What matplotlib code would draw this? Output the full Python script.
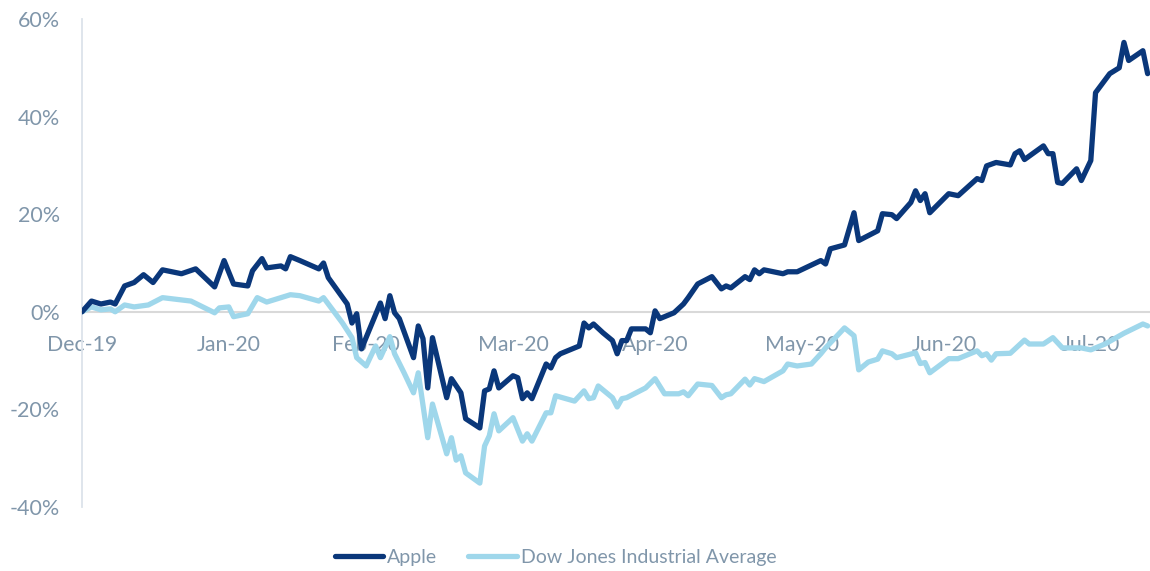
import numpy as np
import pandas as pd
import matplotlib
matplotlib.use('Agg')
import matplotlib.pyplot as plt
import matplotlib.dates as mdates
from matplotlib.ticker import FuncFormatter

## Data (cumulative return in %)
start = pd.Timestamp('2019-12-31')

apple_days = [0, 2, 4, 6, 7, 9, 11, 13, 15, 17, 21, 24, 28, 30, 32, 35, 36, 38, 39, 42,
              43, 44, 46, 50, 51, 52, 56, 57, 58, 59, 63, 64, 65, 66, 67, 70, 71, 72, 73, 74,
              77, 78, 80, 81, 84, 85, 86, 87, 88, 91, 92, 93, 94, 95, 98, 99, 100, 101, 105, 106,
              107, 108, 110, 112, 113, 114, 115, 116, 119, 120, 121, 122, 125, 127, 128, 130, 133, 135, 136, 137,
              140, 141, 142, 143, 144, 148, 149, 151, 156, 157, 158, 161, 163, 164, 166, 168, 169, 171, 172, 175,
              176, 177, 178, 179, 183, 185, 189, 190, 191, 193, 196, 197, 198, 199, 203, 204, 205, 206, 207, 210,
              211, 213, 214, 217, 219, 220, 221, 224, 225]
apple_vals = [0.0, 2.2, 1.6, 2.0, 1.6, 5.3, 6.0, 7.6, 6.0, 8.6, 7.8, 8.8, 5.1, 10.5, 5.7, 5.3, 8.4, 10.9, 9.0, 9.4,
              8.8, 11.3, 10.5, 8.8, 10.0, 7.0, 1.6, -2.3, -0.4, -7.6, 1.8, -1.4, 3.3, -0.2, -1.4, -9.4, -2.9, -5.5, -15.6, -5.3,
              -17.6, -13.7, -16.6, -21.9, -23.8, -16.2, -15.8, -12.1, -15.6, -13.1, -13.5, -17.8, -16.6, -17.8, -10.7, -11.5, -9.4, -8.6, -7.0, -2.3,
              -3.3, -2.5, -4.3, -5.9, -8.6, -5.9, -5.9, -3.5, -3.5, -4.3, 0.2, -1.4, -0.2, 1.6, 2.9, 5.7, 7.2, 4.7, 5.3, 4.9,
              7.2, 6.6, 8.6, 7.8, 8.6, 7.8, 8.2, 8.2, 10.5, 9.8, 12.9, 13.7, 20.3, 14.6, 15.6, 16.6, 20.1, 19.9, 19.1, 22.4,
              24.8, 22.8, 24.2, 20.3, 24.2, 23.8, 27.3, 26.9, 29.9, 30.6, 30.1, 32.4, 33.0, 31.2, 34.0, 32.4, 32.4, 26.5, 26.3, 29.3,
              26.9, 31.0, 44.9, 48.8, 50.0, 55.2, 51.5, 53.5, 48.8]

dow_days = [0, 2, 4, 6, 7, 9, 11, 14, 17, 23, 28, 29, 31, 32, 35, 37, 39, 42, 44, 46,
            50, 51, 52, 55, 57, 58, 60, 62, 63, 65, 66, 68, 70, 71, 73, 74, 77, 78, 79, 80,
            81, 84, 85, 86, 87, 88, 91, 93, 94, 95, 98, 99, 100, 104, 106, 107, 108, 109, 112, 113,
            114, 115, 117, 119, 121, 123, 126, 127, 128, 130, 133, 135, 136, 137, 140, 141, 142, 144, 148, 149,
            151, 154, 156, 157, 161, 163, 164, 166, 168, 169, 171, 172, 176, 177, 178, 179, 183, 185, 189, 190,
            191, 192, 193, 196, 199, 200, 203, 205, 207, 211, 213, 216, 220, 224, 225]
dow_vals = [0.0, 1.0, 0.4, 0.6, 0.0, 1.4, 1.0, 1.4, 2.9, 2.2, -0.2, 0.8, 1.0, -1.0, -0.4, 2.9, 2.0, 2.9, 3.5, 3.3,
            2.2, 2.9, 1.6, -2.3, -5.3, -9.4, -11.1, -7.0, -9.4, -5.1, -8.6, -12.5, -16.6, -12.5, -25.8, -18.9, -29.1, -25.8, -30.4, -29.5,
            -33.0, -35.1, -27.5, -25.4, -20.9, -24.4, -21.7, -26.5, -25.0, -26.5, -20.7, -20.7, -17.2, -18.3, -16.2, -17.8, -17.6, -15.2, -17.6, -19.5,
            -17.8, -17.6, -16.6, -15.6, -13.7, -16.8, -16.8, -16.4, -17.2, -14.8, -15.1, -17.6, -17.0, -16.8, -13.8, -15.0, -13.7, -14.3, -12.1, -10.7,
            -11.1, -10.7, -8.6, -7.4, -3.3, -4.9, -11.9, -10.3, -9.7, -8.0, -8.6, -9.4, -8.4, -10.6, -10.4, -12.5, -9.6, -9.6, -8.0, -9.0,
            -8.6, -9.9, -8.6, -8.5, -5.8, -6.6, -6.6, -5.3, -7.4, -7.4, -7.8, -6.6, -4.4, -2.5, -2.9]

tick_dates = ['2019-12-31', '2020-01-31', '2020-02-29', '2020-03-31',
              '2020-04-30', '2020-05-31', '2020-06-30', '2020-07-31']

apple_x = start + pd.to_timedelta(apple_days, unit='D')
dow_x = start + pd.to_timedelta(dow_days, unit='D')

## Style
txt = '#8096aa'
plt.rcParams['font.family'] = ['Lato', 'DejaVu Sans']
plt.rcParams['font.size'] = 14

fig = plt.figure(figsize=(11.5, 5.71), dpi=100)
ax = fig.add_axes([82/1150, 1 - 507/571, 1 - 82/1150, (507 - 19)/571])

ax.plot(apple_x, apple_vals, color='#0a377a', lw=3.8, label='Apple',
        solid_joinstyle='round', solid_capstyle='round', zorder=4)
ax.plot(dow_x, dow_vals, color='#9fd7eb', lw=3.8, label='Dow Jones Industrial Average',
        solid_joinstyle='round', solid_capstyle='round', zorder=3)

ax.set_ylim(-40, 60)
ax.set_yticks([-40, -20, 0, 20, 40, 60])
ax.yaxis.set_major_formatter(FuncFormatter(lambda v, p: f'{v:.0f}%'))
ax.set_xlim(start, start + pd.Timedelta(days=225.5))
ax.set_xticks(pd.to_datetime(tick_dates))
ax.xaxis.set_major_formatter(mdates.DateFormatter('%b-%y'))

for s in ['top', 'right']:
    ax.spines[s].set_visible(False)
ax.spines['left'].set_color('#dce3ea')
ax.spines['left'].set_linewidth(1.3)
ax.spines['bottom'].set_position(('data', 0))
ax.spines['bottom'].set_color('#d9d9d9')
ax.spines['bottom'].set_linewidth(1.5)

ax.tick_params(axis='y', length=0, pad=16, colors=txt, labelsize=15.5)
ax.tick_params(axis='x', length=0, pad=17, colors=txt, labelsize=15.3)

fig.legend(loc='center', bbox_to_anchor=(0.483, 0.024), ncol=2, frameon=False,
           handlelength=2.5, handletextpad=0.2, columnspacing=1.6,
           labelcolor=txt, fontsize=14)

fig.savefig('out.png', dpi=100)
